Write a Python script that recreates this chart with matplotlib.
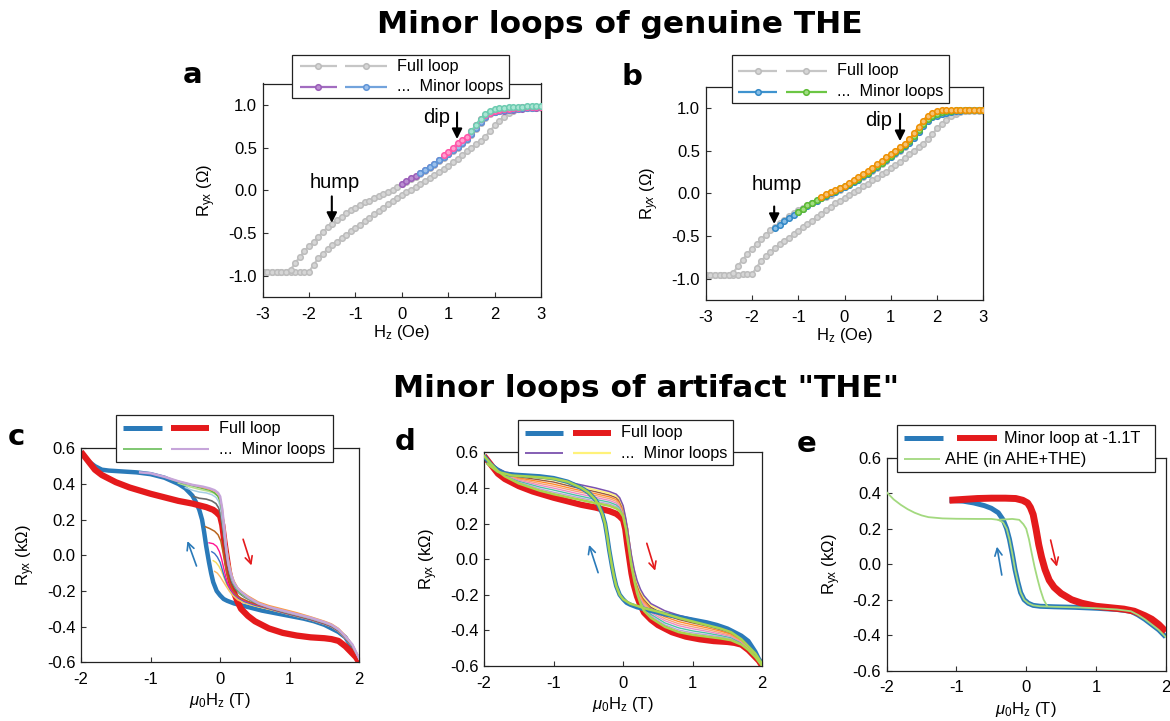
import matplotlib
matplotlib.use('Agg')
import matplotlib.pyplot as plt
from matplotlib.lines import Line2D
from matplotlib.patches import Rectangle

W, H = 1170, 721

plt.rcParams['font.family'] = ['Liberation Sans', 'DejaVu Sans']
plt.rcParams['font.size'] = 11.5
plt.rcParams['axes.unicode_minus'] = False
plt.rcParams['mathtext.fontset'] = 'custom'
plt.rcParams['mathtext.rm'] = 'Liberation Sans'
plt.rcParams['mathtext.it'] = 'Liberation Sans:italic'
plt.rcParams['mathtext.bf'] = 'Liberation Sans:bold'

# ---------------- DATA ----------------
TITLE_TOP = 'Minor loops of genuine THE'
TITLE_BOTTOM = 'Minor loops of artifact "THE"'

# Panels a, b : field grid (Oe)
H_GRID = [-3.0, -2.9, -2.8, -2.7, -2.6, -2.5, -2.4, -2.3, -2.2, -2.1, -2.0, -1.9, -1.8, -1.7, -1.6,
          -1.5, -1.4, -1.3, -1.2, -1.1, -1.0, -0.9, -0.8, -0.7, -0.6, -0.5, -0.4, -0.3, -0.2, -0.1,
          0.0, 0.1, 0.2, 0.3, 0.4, 0.5, 0.6, 0.7, 0.8, 0.9, 1.0, 1.1, 1.2, 1.3, 1.4, 1.5, 1.6, 1.7,
          1.8, 1.9, 2.0, 2.1, 2.2, 2.3, 2.4, 2.5, 2.6, 2.7, 2.8, 2.9, 3.0]
FULL_UPPER = [-0.96, -0.96, -0.96, -0.96, -0.96, -0.955, -0.93, -0.85, -0.78, -0.71, -0.65, -0.60, -0.54,
              -0.49, -0.43, -0.39, -0.35, -0.31, -0.27, -0.23, -0.20, -0.17, -0.14, -0.12, -0.09, -0.06,
              -0.04, -0.02, 0.01, 0.04, 0.07, 0.10, 0.13, 0.16, 0.19, 0.23, 0.26, 0.30, 0.34, 0.38, 0.42,
              0.46, 0.50, 0.54, 0.59, 0.65, 0.72, 0.79, 0.85, 0.89, 0.92, 0.93, 0.94, 0.95, 0.95, 0.96,
              0.96, 0.97, 0.97, 0.97, 0.97]
FULL_LOWER = [-0.96, -0.96, -0.96, -0.96, -0.96, -0.96, -0.955, -0.955, -0.95, -0.95, -0.95, -0.87, -0.79,
              -0.74, -0.69, -0.64, -0.60, -0.56, -0.52, -0.48, -0.44, -0.40, -0.36, -0.32, -0.28, -0.24,
              -0.20, -0.16, -0.12, -0.09, -0.05, -0.02, 0.01, 0.04, 0.08, 0.11, 0.15, 0.18, 0.22, 0.25,
              0.29, 0.33, 0.37, 0.41, 0.46, 0.50, 0.54, 0.58, 0.63, 0.69, 0.76, 0.81, 0.86, 0.90, 0.93,
              0.95, 0.96, 0.96, 0.96, 0.96, 0.96]
# panel a minor loops (start index in H_GRID, values)
A_PURPLE_START = 30
A_PURPLE = [0.08, 0.11, 0.14, 0.17, 0.20, 0.24, 0.27, 0.31, 0.35, 0.39, 0.43, 0.47, 0.51, 0.55, 0.60, 0.66,
            0.73, 0.80, 0.86, 0.90, 0.92, 0.93, 0.93, 0.94, 0.94, 0.95, 0.95, 0.96, 0.96, 0.96, 0.97]
A_BLUE_START = 34
A_BLUE = [0.20, 0.24, 0.27, 0.31, 0.35, 0.39, 0.43, 0.47, 0.51, 0.55, 0.60, 0.66, 0.73, 0.80, 0.86, 0.90,
          0.92, 0.93, 0.94, 0.94, 0.95, 0.95, 0.96, 0.96, 0.96, 0.97, 0.97]
A_PINK_START = 39
A_PINK = [0.41, 0.45, 0.50, 0.55, 0.59, 0.63, 0.69, 0.76, 0.83, 0.88, 0.91, 0.93, 0.94, 0.95, 0.95, 0.96,
          0.96, 0.97, 0.97, 0.97, 0.97, 0.97]
A_TEAL_START = 45
A_TEAL = [0.69, 0.77, 0.84, 0.89, 0.93, 0.95, 0.96, 0.96, 0.97, 0.97, 0.98, 0.98, 0.99, 0.99, 0.99, 0.99]
# panel b minor loops
B_BLUE_START = 15
B_BLUE = [-0.41, -0.37, -0.33, -0.29, -0.25, -0.22, -0.18, -0.15, -0.12, -0.09, -0.06, -0.03, 0.00, 0.02,
          0.05, 0.07, 0.10, 0.13, 0.16, 0.20, 0.23, 0.27, 0.31, 0.35, 0.39, 0.43, 0.47, 0.51, 0.55, 0.59,
          0.65, 0.72, 0.79, 0.85, 0.89, 0.91, 0.93, 0.94, 0.95, 0.96, 0.96, 0.97, 0.97, 0.97, 0.97, 0.97]
B_GREEN_START = 20
B_GREEN = [-0.22, -0.18, -0.14, -0.11, -0.08, -0.05, -0.02, 0.01, 0.03, 0.06, 0.08, 0.11, 0.14, 0.17,
           0.21, 0.24, 0.28, 0.32, 0.36, 0.40, 0.44, 0.48, 0.52, 0.56, 0.61, 0.67, 0.74, 0.81, 0.87, 0.91,
           0.93, 0.95, 0.96, 0.96, 0.97, 0.97, 0.97, 0.97, 0.97, 0.97, 0.97]
B_ORANGE_START = 25
B_ORANGE = [-0.04, -0.01, 0.02, 0.04, 0.06, 0.09, 0.12, 0.16, 0.19, 0.23, 0.26, 0.30, 0.34, 0.38, 0.42,
            0.46, 0.50, 0.54, 0.58, 0.63, 0.70, 0.78, 0.85, 0.91, 0.94, 0.96, 0.97, 0.97, 0.97, 0.98,
            0.98, 0.98, 0.98, 0.98, 0.98, 0.98]

AB_XTICKS = [-3, -2, -1, 0, 1, 2, 3]
AB_XTICKLABELS = ['-3', '-2', '-1', '0', '1', '2', '3']
AB_YTICKS = [-1.0, -0.5, 0.0, 0.5, 1.0]
AB_YTICKLABELS = ['-1.0', '-0.5', '0.0', '0.5', '1.0']

# Panels c, d : full loop (kOhm vs T)
FULL_DOWN_H = [2.0, 1.95, 1.9, 1.85, 1.8, 1.7, 1.6, 1.5, 1.35, 1.2, 1.0, 0.8, 0.6, 0.4, 0.2, 0.1, 0.05, 0.0,
               -0.05, -0.1, -0.13, -0.16, -0.2, -0.23, -0.26, -0.3, -0.35, -0.4, -0.5, -0.6, -0.8, -1.0,
               -1.2, -1.4, -1.6, -1.7, -1.8, -1.9, -2.0]
FULL_DOWN_R = [-0.59, -0.56, -0.52, -0.49, -0.46, -0.43, -0.41, -0.39, -0.37, -0.355, -0.34, -0.325, -0.31,
               -0.29, -0.27, -0.255, -0.245, -0.225, -0.2, -0.15, -0.1, -0.04, 0.05, 0.13, 0.2, 0.255, 0.30,
               0.335, 0.375, 0.40, 0.435, 0.455, 0.465, 0.47, 0.475, 0.48, 0.50, 0.53, 0.58]
FULL_UP_H = [-2.0, -1.9, -1.8, -1.7, -1.6, -1.5, -1.3, -1.0, -0.8, -0.6, -0.4, -0.3, -0.2, -0.1, -0.05, 0.0,
             0.03, 0.06, 0.09, 0.12, 0.15, 0.2, 0.25, 0.3, 0.4, 0.5, 0.7, 0.9, 1.1, 1.3, 1.5, 1.6, 1.7, 1.8,
             1.9, 1.95, 2.0]
FULL_UP_R = [0.58, 0.53, 0.48, 0.45, 0.43, 0.41, 0.38, 0.345, 0.325, 0.305, 0.29, 0.28, 0.27, 0.255, 0.24,
             0.22, 0.17, 0.08, 0.0, -0.08, -0.14, -0.21, -0.26, -0.3, -0.34, -0.37, -0.41, -0.435, -0.45,
             -0.46, -0.465, -0.47, -0.48, -0.51, -0.55, -0.57, -0.6]

# Panel c minor loops
C_LILAC_H = [-1.15, -1.0, -0.8, -0.6, -0.4, -0.25, -0.15, -0.08, -0.03, 0.0, 0.03, 0.06, 0.09, 0.12, 0.16, 0.2,
             0.25, 0.3, 0.4, 0.55, 0.7, 0.9, 1.1, 1.3, 1.5, 1.6, 1.7, 1.8, 1.9, 1.95, 2.0]
C_LILAC_R = [0.465, 0.46, 0.44, 0.415, 0.395, 0.385, 0.375, 0.365, 0.35, 0.33, 0.26, 0.15, 0.03, -0.05, -0.11,
             -0.155, -0.185, -0.205, -0.235, -0.27, -0.29, -0.31, -0.33, -0.35, -0.375, -0.39, -0.415, -0.455,
             -0.5, -0.54, -0.58]
C_ORANGE_H = [-0.95, -0.8, -0.6, -0.4, -0.25, -0.15, -0.08, -0.03, 0.0, 0.03, 0.06, 0.09, 0.12, 0.16, 0.2, 0.25,
              0.3, 0.4, 0.55, 0.7, 0.9, 1.1, 1.3, 1.5, 1.6, 1.7, 1.8, 1.9, 1.95, 2.0]
C_ORANGE_R = [0.455, 0.44, 0.415, 0.395, 0.38, 0.37, 0.36, 0.345, 0.32, 0.265, 0.16, 0.05, -0.03, -0.1, -0.145,
              -0.18, -0.2, -0.228, -0.262, -0.282, -0.302, -0.322, -0.345, -0.37, -0.385, -0.41, -0.45, -0.5,
              -0.54, -0.58]
C_GREEN_H = [-0.7, -0.55, -0.4, -0.25, -0.15, -0.08, -0.03, 0.0, 0.03, 0.06, 0.09, 0.12, 0.16, 0.2, 0.25, 0.3,
             0.4, 0.55, 0.7, 0.9, 1.1, 1.3, 1.5, 1.6, 1.7, 1.8, 1.9, 2.0]
C_GREEN_R = [0.425, 0.405, 0.39, 0.375, 0.365, 0.35, 0.33, 0.30, 0.235, 0.13, 0.03, -0.05, -0.12, -0.165, -0.195,
             -0.215, -0.24, -0.272, -0.292, -0.312, -0.332, -0.352, -0.377, -0.392, -0.417, -0.457, -0.505, -0.58]
C_LTGREEN_H = [-0.6, -0.45, -0.3, -0.18, -0.1, -0.04, 0.0, 0.03, 0.06, 0.09, 0.12, 0.16, 0.2, 0.25, 0.3, 0.4,
               0.55, 0.7, 0.9, 1.1, 1.3, 1.5, 1.6, 1.7, 1.8, 1.9, 2.0]
C_LTGREEN_R = [0.405, 0.385, 0.37, 0.36, 0.35, 0.335, 0.31, 0.25, 0.15, 0.05, -0.03, -0.1, -0.15, -0.185, -0.208,
               -0.235, -0.268, -0.288, -0.31, -0.33, -0.35, -0.375, -0.39, -0.415, -0.455, -0.503, -0.58]
C_LTBLUE_H = [-0.5, -0.4, -0.3, -0.2, -0.12, -0.06, -0.02, 0.01, 0.04, 0.07, 0.1, 0.13, 0.17, 0.22, 0.28, 0.35,
              0.5, 0.7, 0.9, 1.1, 1.3, 1.5, 1.6, 1.7, 1.8, 1.9, 2.0]
C_LTBLUE_R = [0.38, 0.365, 0.355, 0.35, 0.34, 0.325, 0.3, 0.255, 0.17, 0.07, -0.01, -0.08, -0.14, -0.18, -0.21,
              -0.23, -0.262, -0.292, -0.314, -0.334, -0.354, -0.378, -0.393, -0.418, -0.458, -0.506, -0.58]
C_DKGRAY_H = [-0.38, -0.3, -0.2, -0.12, -0.06, -0.02, 0.01, 0.04, 0.07, 0.1, 0.13, 0.17, 0.22, 0.28, 0.35, 0.5,
              0.7, 0.9, 1.1, 1.3, 1.5, 1.6, 1.7, 1.8, 1.9, 2.0]
C_DKGRAY_R = [0.33, 0.32, 0.315, 0.305, 0.29, 0.265, 0.22, 0.14, 0.04, -0.04, -0.1, -0.155, -0.19, -0.215, -0.235,
              -0.265, -0.292, -0.316, -0.336, -0.356, -0.38, -0.395, -0.42, -0.46, -0.508, -0.58]
C_BROWN_H = [-0.21, -0.15, -0.08, -0.03, 0.01, 0.04, 0.07, 0.1, 0.14, 0.18, 0.23, 0.3, 0.4, 0.55, 0.7, 0.9, 1.1,
             1.3, 1.5, 1.6, 1.7, 1.8, 1.9, 2.0]
C_BROWN_R = [0.16, 0.15, 0.135, 0.115, 0.08, 0.02, -0.05, -0.11, -0.16, -0.195, -0.22, -0.24, -0.258, -0.278,
             -0.296, -0.318, -0.338, -0.358, -0.382, -0.397, -0.422, -0.462, -0.51, -0.58]
C_MAGENTA_H = [-0.16, -0.1, -0.05, -0.01, 0.02, 0.05, 0.08, 0.11, 0.15, 0.2, 0.26, 0.35, 0.5, 0.7, 0.9, 1.1, 1.3,
               1.5, 1.6, 1.7, 1.8, 1.9, 2.0]
C_MAGENTA_R = [0.07, 0.065, 0.05, 0.02, -0.02, -0.07, -0.12, -0.16, -0.19, -0.215, -0.235, -0.255, -0.275, -0.297,
               -0.319, -0.339, -0.359, -0.383, -0.398, -0.423, -0.463, -0.51, -0.58]
C_BLUE2_H = [-0.12, -0.08, -0.04, 0.0, 0.03, 0.06, 0.1, 0.15, 0.2, 0.26, 0.35, 0.5, 0.7, 0.9, 1.1, 1.3, 1.5, 1.6,
             1.7, 1.8, 1.9, 2.0]
C_BLUE2_R = [0.02, 0.01, -0.01, -0.04, -0.08, -0.12, -0.16, -0.195, -0.22, -0.24, -0.26, -0.28, -0.3, -0.322,
             -0.342, -0.362, -0.386, -0.401, -0.426, -0.466, -0.512, -0.58]
C_YELLOW_H = [-0.1, -0.06, -0.02, 0.02, 0.06, 0.1, 0.15, 0.2, 0.28, 0.4, 0.55, 0.7, 0.9, 1.1, 1.3, 1.5, 1.6, 1.7,
              1.8, 1.9, 2.0]
C_YELLOW_R = [-0.03, -0.04, -0.06, -0.09, -0.13, -0.17, -0.2, -0.225, -0.25, -0.27, -0.288, -0.302, -0.322,
              -0.342, -0.362, -0.386, -0.401, -0.426, -0.466, -0.512, -0.58]
C_PEACH_H = [-0.08, -0.04, 0.0, 0.04, 0.08, 0.13, 0.18, 0.25, 0.35, 0.5, 0.7, 0.9, 1.1, 1.3, 1.5, 1.6, 1.7, 1.8,
             1.9, 2.0]
C_PEACH_R = [-0.09, -0.1, -0.12, -0.145, -0.17, -0.2, -0.225, -0.25, -0.268, -0.285, -0.303, -0.323, -0.343,
             -0.363, -0.387, -0.402, -0.427, -0.467, -0.513, -0.58]

# Panel d minor loops (common field list)
D_H = [-2.0, -1.9, -1.8, -1.7, -1.5, -1.2, -1.0, -0.7, -0.4, -0.2, -0.1, -0.05, 0.0, 0.04, 0.08, 0.12, 0.16, 0.2,
       0.25, 0.3, 0.4, 0.6, 0.8, 1.0, 1.2, 1.4, 1.55, 1.7, 1.8, 1.9, 2.0]
D_PURPLE = [0.58, 0.54, 0.51, 0.49, 0.475, 0.465, 0.455, 0.425, 0.40, 0.38, 0.365, 0.345, 0.30, 0.225, 0.12, 0.02,
            -0.06, -0.12, -0.17, -0.205, -0.25, -0.29, -0.315, -0.335, -0.355, -0.38, -0.40, -0.44, -0.48, -0.53, -0.60]
D_YELLOW = [0.58, 0.539, 0.508, 0.487, 0.469, 0.455, 0.444, 0.414, 0.389, 0.37, 0.355, 0.336, 0.293, 0.218, 0.114,
            0.013, -0.068, -0.129, -0.18, -0.216, -0.26, -0.301, -0.327, -0.346, -0.365, -0.388, -0.407, -0.445,
            -0.484, -0.533, -0.60]
D_BROWN = [0.58, 0.539, 0.506, 0.484, 0.463, 0.445, 0.433, 0.404, 0.379, 0.36, 0.345, 0.326, 0.285, 0.211, 0.108,
           0.005, -0.075, -0.138, -0.19, -0.226, -0.27, -0.313, -0.339, -0.358, -0.375, -0.396, -0.414, -0.45,
           -0.488, -0.535, -0.60]
D_ORANGE = [0.58, 0.538, 0.504, 0.481, 0.456, 0.435, 0.421, 0.393, 0.368, 0.35, 0.335, 0.317, 0.278, 0.204, 0.101,
            -0.003, -0.083, -0.146, -0.20, -0.237, -0.28, -0.324, -0.351, -0.369, -0.385, -0.404, -0.421, -0.455,
            -0.491, -0.538, -0.60]
D_SALMON = [0.58, 0.538, 0.502, 0.478, 0.45, 0.425, 0.41, 0.383, 0.358, 0.34, 0.325, 0.308, 0.27, 0.198, 0.095,
            -0.01, -0.09, -0.155, -0.21, -0.248, -0.29, -0.335, -0.363, -0.38, -0.395, -0.413, -0.428, -0.46,
            -0.495, -0.54, -0.60]
D_PINK = [0.58, 0.537, 0.501, 0.474, 0.444, 0.415, 0.399, 0.372, 0.347, 0.33, 0.315, 0.298, 0.263, 0.191, 0.089,
          -0.018, -0.098, -0.164, -0.22, -0.258, -0.30, -0.346, -0.374, -0.391, -0.405, -0.421, -0.434, -0.465,
          -0.499, -0.543, -0.60]
D_TEAL = [0.58, 0.537, 0.499, 0.471, 0.438, 0.405, 0.388, 0.361, 0.336, 0.32, 0.305, 0.289, 0.255, 0.184, 0.083,
          -0.025, -0.105, -0.173, -0.23, -0.269, -0.31, -0.358, -0.386, -0.403, -0.415, -0.429, -0.441, -0.47,
          -0.503, -0.545, -0.60]
D_LILAC = [0.58, 0.536, 0.497, 0.468, 0.431, 0.395, 0.376, 0.351, 0.326, 0.31, 0.295, 0.279, 0.248, 0.177, 0.076,
           -0.033, -0.113, -0.181, -0.24, -0.279, -0.32, -0.369, -0.398, -0.414, -0.425, -0.437, -0.448, -0.475,
           -0.506, -0.548, -0.60]
D_LIME = [0.58, 0.535, 0.495, 0.465, 0.425, 0.385, 0.365, 0.34, 0.315, 0.30, 0.285, 0.27, 0.24, 0.17, 0.07, -0.04,
          -0.12, -0.19, -0.25, -0.29, -0.33, -0.38, -0.41, -0.425, -0.435, -0.445, -0.455, -0.48, -0.51, -0.55, -0.60]
D_LIME_DOWN_H = [2.0, 1.9, 1.8, 1.7, 1.55, 1.4, 1.2, 1.0, 0.8, 0.5, 0.3, 0.2, 0.1, 0.0, -0.05, -0.1, -0.13, -0.16,
                 -0.2, -0.23, -0.26, -0.3, -0.35, -0.4, -0.5, -0.6, -0.8, -1.0, -1.2, -1.4, -1.6, -1.8, -1.95]
D_LIME_DOWN_R = [-0.59, -0.53, -0.49, -0.45, -0.41, -0.39, -0.37, -0.35, -0.33, -0.295, -0.275, -0.262, -0.25,
                 -0.225, -0.2, -0.15, -0.1, -0.04, 0.05, 0.13, 0.2, 0.255, 0.3, 0.335, 0.375, 0.4, 0.435, 0.452,
                 0.46, 0.465, 0.47, 0.49, 0.535]

# Panel e
E_BLUE_H = [2.0, 1.9, 1.8, 1.7, 1.6, 1.5, 1.3, 1.0, 0.7, 0.4, 0.2, 0.1, 0.03, -0.03, -0.08, -0.12, -0.16, -0.2,
            -0.24, -0.28, -0.33, -0.4, -0.5, -0.6, -0.75, -0.9, -1.1]
E_BLUE_R = [-0.41, -0.37, -0.34, -0.31, -0.285, -0.265, -0.255, -0.248, -0.243, -0.24, -0.237, -0.232, -0.22, -0.2,
            -0.16, -0.1, -0.03, 0.06, 0.14, 0.2, 0.25, 0.29, 0.315, 0.33, 0.345, 0.355, 0.36]
E_RED_H = [-1.1, -0.9, -0.7, -0.5, -0.3, -0.15, -0.05, 0.02, 0.06, 0.1, 0.14, 0.18, 0.22, 0.27, 0.33, 0.4, 0.5,
           0.65, 0.8, 1.0, 1.2, 1.4, 1.55, 1.7, 1.8, 1.9, 2.0]
E_RED_R = [0.36, 0.365, 0.37, 0.372, 0.372, 0.37, 0.36, 0.345, 0.32, 0.28, 0.2, 0.11, 0.04, -0.03, -0.09, -0.13,
           -0.165, -0.2, -0.22, -0.237, -0.245, -0.253, -0.265, -0.29, -0.31, -0.34, -0.38]
E_AHE_DOWN_H = [2.0, 1.9, 1.8, 1.7, 1.6, 1.5, 1.3, 1.0, 0.7, 0.4, 0.2, 0.1, 0.03, -0.03, -0.08, -0.12, -0.16, -0.2,
                -0.24, -0.28, -0.33, -0.4, -0.5, -0.7, -1.0, -1.2, -1.4, -1.5, -1.6, -1.7, -1.8, -1.9, -2.0]
E_AHE_DOWN_R = [-0.41, -0.37, -0.34, -0.31, -0.285, -0.265, -0.255, -0.248, -0.243, -0.24, -0.237, -0.232, -0.22,
                -0.2, -0.16, -0.1, -0.03, 0.06, 0.14, 0.2, 0.235, 0.25, 0.255, 0.255, 0.256, 0.258, 0.265, 0.275,
                0.29, 0.31, 0.335, 0.365, 0.405]
E_AHE_UP_H = [-0.4, -0.2, -0.1, -0.04, 0.0, 0.04, 0.08, 0.12, 0.16, 0.2, 0.25, 0.3]
E_AHE_UP_R = [0.25, 0.255, 0.25, 0.225, 0.2, 0.14, 0.06, -0.015, -0.08, -0.14, -0.2, -0.235]

CDE_XTICKS = [-2, -1, 0, 1, 2]
CDE_XTICKLABELS = ['-2', '-1', '0', '1', '2']
CDE_YTICKS = [-0.6, -0.4, -0.2, 0.0, 0.2, 0.4, 0.6]
CDE_YTICKLABELS = ['-0.6', '-0.4', '-0.2', '0.0', '0.2', '0.4', '0.6']

for hh, rr in [(H_GRID, FULL_UPPER), (H_GRID, FULL_LOWER), (FULL_DOWN_H, FULL_DOWN_R), (FULL_UP_H, FULL_UP_R),
               (C_LILAC_H, C_LILAC_R), (C_ORANGE_H, C_ORANGE_R), (C_GREEN_H, C_GREEN_R),
               (C_LTGREEN_H, C_LTGREEN_R), (C_LTBLUE_H, C_LTBLUE_R), (C_DKGRAY_H, C_DKGRAY_R),
               (C_BROWN_H, C_BROWN_R), (C_MAGENTA_H, C_MAGENTA_R), (C_BLUE2_H, C_BLUE2_R),
               (C_YELLOW_H, C_YELLOW_R), (C_PEACH_H, C_PEACH_R), (D_LIME_DOWN_H, D_LIME_DOWN_R),
               (E_BLUE_H, E_BLUE_R), (E_RED_H, E_RED_R), (E_AHE_DOWN_H, E_AHE_DOWN_R), (E_AHE_UP_H, E_AHE_UP_R)]:
    assert len(hh) == len(rr), (len(hh), len(rr))
for arr in [D_PURPLE, D_YELLOW, D_BROWN, D_ORANGE, D_SALMON, D_PINK, D_TEAL, D_LILAC, D_LIME]:
    assert len(arr) == len(D_H)
for st, arr in [(A_PURPLE_START, A_PURPLE), (A_BLUE_START, A_BLUE), (A_PINK_START, A_PINK),
                (A_TEAL_START, A_TEAL), (B_BLUE_START, B_BLUE), (B_GREEN_START, B_GREEN),
                (B_ORANGE_START, B_ORANGE)]:
    assert len(H_GRID) - st == len(arr), (st, len(arr))

# ---------------- STYLE ----------------
BLUE = '#2a7ab9'
RED = '#e41a1c'
GRAY = ('#c6c6c6', '#d6d6d6', '#bcbcbc')   # line, marker face, marker edge
A_COLS = {'purple': ('#a26cc0', '#bb8fd2', '#9a5db8'),
          'blue': ('#72a3dc', '#9cc0ec', '#5f94d6'),
          'pink': ('#ff6cb5', '#ff9fcf', '#ff55a8'),
          'teal': ('#7fd6bd', '#aae6d4', '#6ccbb0')}
B_COLS = {'blue': ('#3f93cf', '#86bde6', '#3288c6'),
          'green': ('#6cc644', '#a2dd84', '#5cba33'),
          'orange': ('#f39a16', '#f7c273', '#ee9000')}
TICK_FS = 12
LABEL_FS = 12

fig = plt.figure(figsize=(W / 100, H / 100), dpi=100)


def px_rect(l, r, t, b):
    return [l / W, 1 - b / H, (r - l) / W, (b - t) / H]


def fx(x):
    return x / W


def fy(y):
    return 1 - y / H


def style(ax, xlim, ylim, xt, xtl, yt, ytl):
    ax.set_xlim(*xlim)
    ax.set_ylim(*ylim)
    ax.set_xticks(xt)
    ax.set_xticklabels(xtl)
    ax.set_yticks(yt)
    ax.set_yticklabels(ytl)
    ax.tick_params(axis='both', direction='in', length=3.5, width=0.8, color='#333333', labelsize=TICK_FS)
    ax.tick_params(axis='x', pad=7)
    ax.tick_params(axis='y', pad=4)
    for s in ax.spines.values():
        s.set_linewidth(0.9)
        s.set_color('#222222')


def mplot(ax, x, y, cols, z=2):
    ax.plot(x, y, '-o', color=cols[0], mfc=cols[1], mec=cols[2], ms=4.0, mew=1.1, lw=1.6, zorder=z)


def legend_box(x0, x1, y0, y1):
    fig.add_artist(Rectangle((fx(x0), fy(y1)), (x1 - x0) / W, (y1 - y0) / H, transform=fig.transFigure,
                             facecolor='white', edgecolor='#222222', lw=0.9, zorder=10))


def legend_line(x0, x1, y, color, lw, marker=None):
    fig.add_artist(Line2D([fx(x0), fx(x1)], [fy(y), fy(y)], transform=fig.transFigure, color=color, lw=lw,
                          solid_capstyle='butt', zorder=11))
    if marker is not None:
        fig.add_artist(Line2D([fx((x0 + x1) / 2)], [fy(y)], transform=fig.transFigure, marker='o', ms=4.0,
                              mfc=marker[1], mec=marker[2], mew=1.1, ls='none', zorder=12))


def legend_text(x, y, s):
    fig.text(fx(x), fy(y), s, ha='left', va='center', fontsize=11.7, zorder=13)


def letter(x, ybase, s):
    fig.text(fx(x), fy(ybase), s, ha='left', va='baseline', fontsize=21, fontweight='bold',
             family='DejaVu Sans')


def black_arrow(ax, x, y0, y1):
    ax.annotate('', xy=(x, y1), xytext=(x, y0),
                arrowprops=dict(arrowstyle='-|>', color='black', lw=1.5, mutation_scale=15,
                                shrinkA=0, shrinkB=0), zorder=6)


def color_arrow(ax, x0, y0, x1, y1, c):
    ax.annotate('', xy=(x1, y1), xytext=(x0, y0),
                arrowprops=dict(arrowstyle='->', color=c, lw=1.2, mutation_scale=13,
                                shrinkA=0, shrinkB=0), zorder=6)


# titles
fig.text(fx(620), fy(32.7), TITLE_TOP, ha='center', va='baseline', fontsize=22.5, fontweight='bold',
         family='DejaVu Sans')
fig.text(fx(646.5), fy(396.7), TITLE_BOTTOM, ha='center', va='baseline', fontsize=22.5, fontweight='bold',
         family='DejaVu Sans')

# ---------------- Panel a ----------------
axa = fig.add_axes(px_rect(262.7, 541, 83.5, 297.3))
mplot(axa, H_GRID, FULL_LOWER, GRAY)
mplot(axa, H_GRID, FULL_UPPER, GRAY)
mplot(axa, H_GRID[A_PURPLE_START:], A_PURPLE, A_COLS['purple'], 3)
mplot(axa, H_GRID[A_BLUE_START:], A_BLUE, A_COLS['blue'], 3)
mplot(axa, H_GRID[A_PINK_START:], A_PINK, A_COLS['pink'], 3)
mplot(axa, H_GRID[A_TEAL_START:], A_TEAL, A_COLS['teal'], 3)
style(axa, (-3, 3), (-1.25, 1.25), AB_XTICKS, AB_XTICKLABELS, AB_YTICKS, AB_YTICKLABELS)
axa.set_xlabel('H$_{\\rm z}$ (Oe)', fontsize=LABEL_FS, labelpad=1)
axa.set_ylabel('R$_{\\rm yx}$ (Ω)', fontsize=LABEL_FS, labelpad=8)
axa.text(-1.44, 0.09, 'hump', ha='center', va='center', fontsize=14.5)
black_arrow(axa, -1.51, -0.07, -0.38)
axa.text(0.75, 0.85, 'dip', ha='center', va='center', fontsize=14.5)
black_arrow(axa, 1.19, 0.91, 0.60)
letter(183, 83.3, 'a')
legend_box(291.7, 509, 55, 98.3)
legend_line(300, 336.7, 66, GRAY[0], 1.6, GRAY)
legend_line(345, 386.7, 66, GRAY[0], 1.6, GRAY)
legend_text(396.7, 66, 'Full loop')
legend_line(300, 336.7, 86.7, A_COLS['purple'][0], 1.6, A_COLS['purple'])
legend_line(345, 386.7, 86.7, A_COLS['blue'][0], 1.6, A_COLS['blue'])
legend_text(396.7, 86.7, '...  Minor loops')

# ---------------- Panel b ----------------
axb = fig.add_axes(px_rect(705.7, 983.3, 86.5, 300))
mplot(axb, H_GRID, FULL_LOWER, GRAY)
mplot(axb, H_GRID, FULL_UPPER, GRAY)
mplot(axb, H_GRID[B_BLUE_START:], B_BLUE, B_COLS['blue'], 3)
mplot(axb, H_GRID[B_GREEN_START:], B_GREEN, B_COLS['green'], 3)
mplot(axb, H_GRID[B_ORANGE_START:], B_ORANGE, B_COLS['orange'], 3)
style(axb, (-3, 3), (-1.25, 1.25), AB_XTICKS, AB_XTICKLABELS, AB_YTICKS, AB_YTICKLABELS)
axb.set_xlabel('H$_{\\rm z}$ (Oe)', fontsize=LABEL_FS, labelpad=1)
axb.set_ylabel('R$_{yx}$ (Ω)', fontsize=LABEL_FS, labelpad=8)
axb.text(-1.47, 0.10, 'hump', ha='center', va='center', fontsize=14.5)
black_arrow(axb, -1.52, -0.155, -0.36)
axb.text(0.73, 0.85, 'dip', ha='center', va='center', fontsize=14.5)
black_arrow(axb, 1.2, 0.93, 0.61)
letter(621.7, 85, 'b')
legend_box(731.7, 949, 55, 103.3)
legend_line(738.3, 776.7, 70.7, GRAY[0], 1.6, GRAY)
legend_line(786, 826.7, 70.7, GRAY[0], 1.6, GRAY)
legend_text(836.7, 70.7, 'Full loop')
legend_line(738.3, 776.7, 91.7, B_COLS['blue'][0], 1.6, B_COLS['blue'])
legend_line(786, 826.7, 91.7, B_COLS['green'][0], 1.6, B_COLS['green'])
legend_text(836.7, 91.7, '...  Minor loops')

# ---------------- Panel c ----------------
axc = fig.add_axes(px_rect(81, 359.3, 448.3, 662.3))
axc.plot(FULL_DOWN_H, FULL_DOWN_R, color=BLUE, lw=3.2, solid_capstyle='butt', zorder=2)
axc.plot(FULL_UP_H, FULL_UP_R, color=RED, lw=4.5, solid_capstyle='butt', zorder=2)
c_minor = [(C_PEACH_H, C_PEACH_R, '#fdb863', 1.0), (C_YELLOW_H, C_YELLOW_R, '#f5dc5a', 1.0),
           (C_BLUE2_H, C_BLUE2_R, '#3b6fc6', 1.0), (C_MAGENTA_H, C_MAGENTA_R, '#ff1493', 1.0),
           (C_BROWN_H, C_BROWN_R, '#b8651e', 1.1), (C_DKGRAY_H, C_DKGRAY_R, '#6b6b6b', 1.2),
           (C_LTBLUE_H, C_LTBLUE_R, '#a6cee3', 1.1), (C_LTGREEN_H, C_LTGREEN_R, '#b8e08a', 1.1),
           (C_GREEN_H, C_GREEN_R, '#5cb84a', 1.1), (C_ORANGE_H, C_ORANGE_R, '#ff9a3c', 1.1),
           (C_LILAC_H, C_LILAC_R, '#c6a5da', 1.8)]
for hh, rr, c, lw in c_minor:
    axc.plot(hh, rr, color=c, lw=lw, zorder=3)
style(axc, (-2, 2), (-0.6, 0.6), CDE_XTICKS, CDE_XTICKLABELS, CDE_YTICKS, CDE_YTICKLABELS)
axc.set_xlabel('$\\mu_{\\rm 0}$H$_{\\rm z}$ (T)', fontsize=LABEL_FS, labelpad=3)
axc.set_ylabel('R$_{\\rm yx}$ (kΩ)', fontsize=LABEL_FS, labelpad=7)
color_arrow(axc, -0.34, -0.06, -0.47, 0.08, BLUE)
color_arrow(axc, 0.33, 0.09, 0.45, -0.057, RED)
letter(7.3, 445, 'c')
legend_box(115.7, 332.7, 415, 461.7)
legend_line(123.3, 161.7, 428.3, BLUE, 3.6)
legend_line(170.7, 209, 428.3, RED, 4.3)
legend_text(219, 428.3, 'Full loop')
legend_line(123.3, 161.7, 449.3, '#5cb84a', 1.1)
legend_line(170.7, 209, 449.3, '#c6a5da', 1.5)
legend_text(219, 449.3, '...  Minor loops')

# ---------------- Panel d ----------------
axd = fig.add_axes(px_rect(484, 762.3, 452.3, 666))
axd.plot(FULL_UP_H, FULL_UP_R, color=RED, lw=4.5, solid_capstyle='butt', zorder=2)
d_minor = [(D_LILAC, '#b9a3dc', 1.0), (D_TEAL, '#4fc1a8', 1.0), (D_PINK, '#e98ac5', 1.0),
           (D_SALMON, '#f7a07a', 1.0), (D_ORANGE, '#ff8c2a', 1.0), (D_BROWN, '#9c5a3c', 1.0),
           (D_YELLOW, '#fff27a', 1.2), (D_PURPLE, '#7b52ae', 1.1)]
for rr, c, lw in d_minor:
    axd.plot(D_H, rr, color=c, lw=lw, zorder=3)
axd.plot(FULL_DOWN_H, FULL_DOWN_R, color=BLUE, lw=3.2, solid_capstyle='butt', zorder=4)
axd.plot(D_H, D_LIME, color='#a8d44e', lw=1.8, zorder=5)
axd.plot(D_LIME_DOWN_H, D_LIME_DOWN_R, color='#a8d44e', lw=1.8, zorder=5)
style(axd, (-2, 2), (-0.6, 0.6), CDE_XTICKS, CDE_XTICKLABELS, CDE_YTICKS, CDE_YTICKLABELS)
axd.set_xlabel('$\\mu_{\\rm 0}$H$_{\\rm z}$ (T)', fontsize=LABEL_FS, labelpad=3)
axd.set_ylabel('R$_{\\rm yx}$ (kΩ)', fontsize=LABEL_FS, labelpad=7)
color_arrow(axd, -0.36, -0.076, -0.49, 0.08, BLUE)
color_arrow(axd, 0.34, 0.089, 0.46, -0.065, RED)
letter(395, 450, 'd')
legend_box(517.7, 733.3, 420, 465)
legend_line(525, 563.3, 432.7, BLUE, 3.6)
legend_line(572.7, 610.7, 432.7, RED, 4.3)
legend_text(620.7, 432.7, 'Full loop')
legend_line(525, 563.3, 453.3, '#7b52ae', 1.3)
legend_line(572.7, 610.7, 453.3, '#fff27a', 1.6)
legend_text(620.7, 453.3, '...  Minor loops')

# ---------------- Panel e ----------------
axe = fig.add_axes(px_rect(886.7, 1165.7, 457.7, 670.7))
axe.plot(E_BLUE_H, E_BLUE_R, color=BLUE, lw=3.6, solid_capstyle='butt', zorder=2)
axe.plot(E_RED_H, E_RED_R, color=RED, lw=5.0, solid_capstyle='butt', zorder=3)
axe.plot(E_AHE_DOWN_H, E_AHE_DOWN_R, color='#a3d97f', lw=1.3, zorder=4)
axe.plot(E_AHE_UP_H, E_AHE_UP_R, color='#a3d97f', lw=1.3, zorder=4)
style(axe, (-2, 2), (-0.6, 0.6), CDE_XTICKS, CDE_XTICKLABELS, CDE_YTICKS, CDE_YTICKLABELS)
axe.set_xlabel('$\\mu_{\\rm 0}$H$_{\\rm z}$ (T)', fontsize=LABEL_FS, labelpad=3)
axe.set_ylabel('R$_{\\rm yx}$ (kΩ)', fontsize=LABEL_FS, labelpad=7)
color_arrow(axe, -0.35, -0.061, -0.42, 0.099, BLUE)
color_arrow(axe, 0.35, 0.136, 0.44, -0.014, RED)
letter(796.7, 451.7, 'e')
legend_box(896.7, 1155, 425, 471.7)
legend_line(904, 942.7, 438.3, BLUE, 3.6)
legend_line(956.7, 996.7, 438.3, RED, 4.3)
legend_text(1004, 438.3, 'Minor loop at -1.1T')
legend_line(904, 940, 459.3, '#a3d97f', 1.3)
legend_text(945, 459.3, 'AHE (in AHE+THE)')

fig.savefig('out.png', dpi=100)
